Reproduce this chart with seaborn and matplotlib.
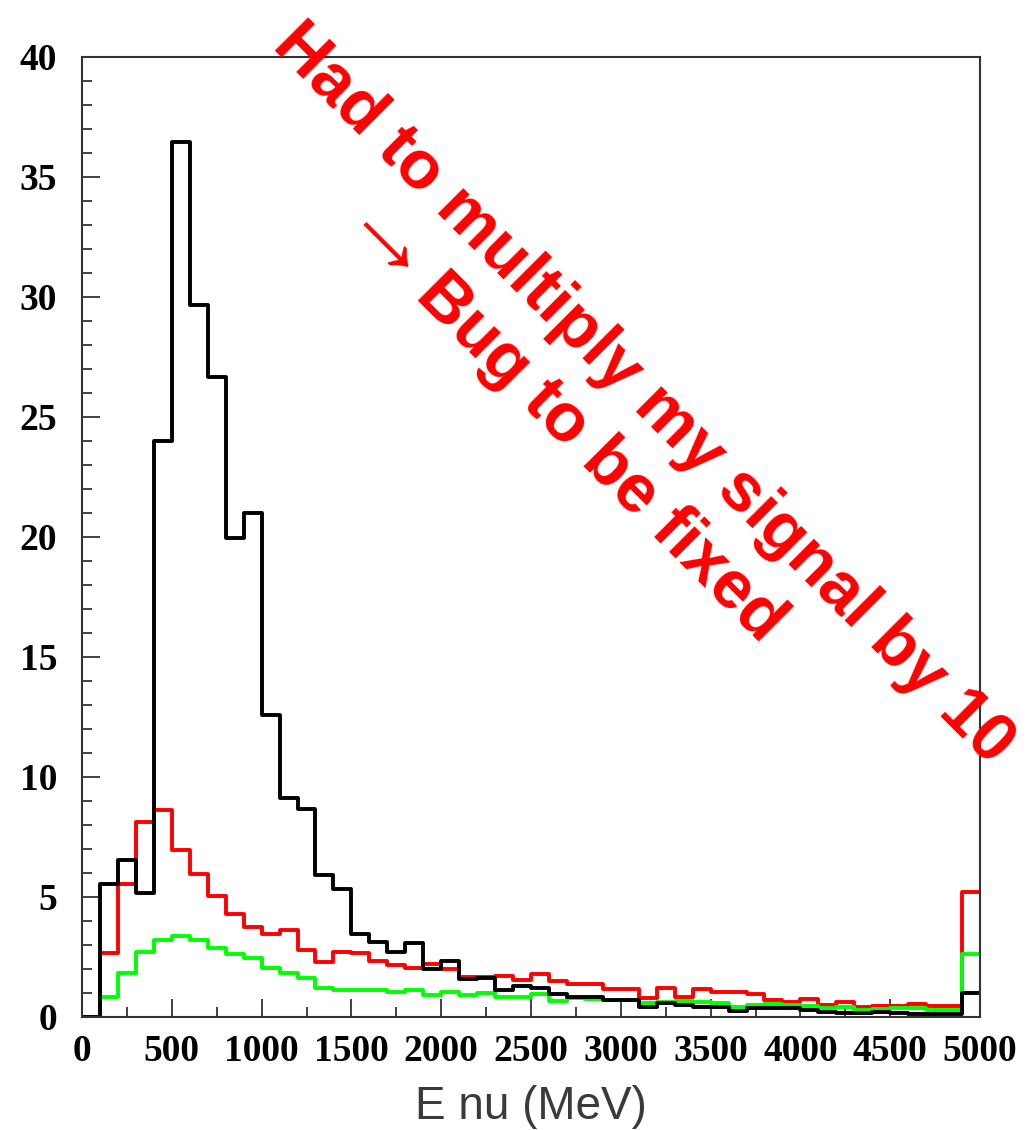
import numpy as np
import pandas as pd
import matplotlib
matplotlib.use("Agg")
import matplotlib.pyplot as plt
import seaborn as sns
from matplotlib.ticker import MultipleLocator

# 100 MeV bins from 0 to 5000 MeV
bin_width = 100
bin_centers = np.arange(50, 5000, bin_width)

# signal (x10), black
black_counts = [0.0, 5.53, 6.54, 5.15, 24.0, 36.47, 29.67, 26.65, 19.97, 20.99,
                12.58, 9.14, 8.65, 5.92, 5.32, 3.45, 3.11, 2.72, 3.07, 1.99,
                2.33, 1.57, 1.64, 1.12, 1.31, 1.2, 0.94, 0.85, 0.85, 0.71,
                0.71, 0.43, 0.6, 0.5, 0.43, 0.43, 0.25, 0.39, 0.39, 0.36,
                0.3, 0.22, 0.18, 0.15, 0.22, 0.15, 0.13, 0.13, 0.13, 1.01]

red_counts = [0.0, 2.68, 5.53, 8.14, 8.62, 6.96, 5.94, 5.04, 4.28, 3.76,
              3.46, 3.63, 2.79, 2.31, 2.72, 2.65, 2.34, 2.17, 2.03, 2.21,
              1.99, 1.68, 1.68, 1.7, 1.54, 1.79, 1.5, 1.36, 1.36, 1.15,
              1.15, 0.78, 1.2, 0.82, 1.15, 1.06, 1.06, 0.96, 0.71, 0.64,
              0.74, 0.5, 0.64, 0.43, 0.46, 0.46, 0.54, 0.46, 0.46, 5.22]

green_counts = [0.0, 0.85, 1.85, 2.72, 3.21, 3.39, 3.21, 2.86, 2.62, 2.44,
                2.03, 1.85, 1.61, 1.2, 1.12, 1.12, 1.12, 1.03, 1.12, 0.92,
                1.03, 0.92, 1.01, 0.85, 0.85, 0.94, 0.68, 0.78, 0.75, 0.72,
                0.7, 0.6, 0.62, 0.68, 0.61, 0.6, 0.43, 0.5, 0.54, 0.5,
                0.46, 0.36, 0.4, 0.29, 0.33, 0.36, 0.36, 0.3, 0.3, 2.62]

x_ticks = [0, 500, 1000, 1500, 2000, 2500, 3000, 3500, 4000, 4500, 5000]
y_ticks = [0, 5, 10, 15, 20, 25, 30, 35, 40]

sns.set_style("white")

fig = plt.figure(figsize=(10.29, 11.3), dpi=100)
ax = fig.add_axes([0.0797, 0.1, 0.8727, 0.8496])

# red first, then green, black on top
for counts, color in [(red_counts, "#ff0000"), (green_counts, "#00ff00"), (black_counts, "black")]:
    df = pd.DataFrame({"enu": bin_centers, "count": counts})
    sns.histplot(data=df, x="enu", weights="count", binwidth=bin_width,
                 binrange=(0, 5000), element="step", fill=False, color=color,
                 linewidth=2.8, ax=ax)

ax.set_xlim(0, 5000)
ax.set_ylim(0, 40)
ax.set_xticks(x_ticks)
ax.set_yticks(y_ticks)
ax.xaxis.set_minor_locator(MultipleLocator(250))
ax.yaxis.set_minor_locator(MultipleLocator(1))
ax.set_xticklabels([str(t) for t in x_ticks])
ax.set_yticklabels([str(t) for t in y_ticks])

for lab in ax.get_xticklabels() + ax.get_yticklabels():
    lab.set_fontfamily("Liberation Serif")
    lab.set_fontweight("bold")
    lab.set_fontsize(27)

ax.tick_params(axis="both", which="both", direction="in", width=1.3,
               color="#333333", labelcolor="black",
               bottom=True, left=True, top=False, right=False)
ax.tick_params(axis="both", which="major", length=13)
ax.tick_params(axis="both", which="minor", length=7)
ax.tick_params(axis="x", which="major", pad=12)
ax.tick_params(axis="y", which="major", pad=18)

for spine in ax.spines.values():
    spine.set_color("#333333")
    spine.set_linewidth(1.5)

ax.set_ylabel("")
ax.set_xlabel("E nu (MeV)", fontfamily="Liberation Sans", fontsize=33,
              color="#3a3a3a", labelpad=12)

# the red note written across the plot
fig.text(0.2634, 0.9584, "Had to multiply my signal by 10", rotation=-45,
         rotation_mode="anchor", ha="left", va="baseline", color="#ff0000",
         fontfamily="Liberation Sans", fontweight="bold", fontsize=49)
fig.text(0.3751, 0.7771, "\u2192", rotation=-45, rotation_mode="anchor",
         ha="center", va="center", color="#ff0000",
         fontfamily=["Liberation Sans", "DejaVu Sans"], fontsize=74)
fig.text(0.4023, 0.7372, "Bug to be fixed", rotation=-45, rotation_mode="anchor",
         ha="left", va="baseline", color="#ff0000",
         fontfamily="Liberation Sans", fontweight="bold", fontsize=49)

fig.savefig("out.png", dpi=100, facecolor="white")
